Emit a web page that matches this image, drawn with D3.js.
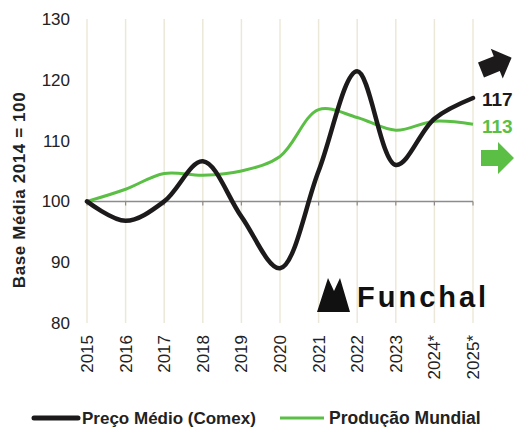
<!DOCTYPE html>
<html>
<head>
<meta charset="utf-8">
<script src="https://cdn.jsdelivr.net/npm/d3@7"></script>
<style>
  body { margin: 0; background: #fff; }
  text { font-family: "Liberation Sans", Arial, Helvetica, sans-serif; }
</style>
</head>
<body>
<svg id="chart" width="516" height="427"></svg>
<script>
// data
const years = ["2015", "2016", "2017", "2018", "2019", "2020", "2021", "2022", "2023", "2024*", "2025*"];
const preco = [100, 96.8, 100, 106.6, 97.5, 89, 105, 121.4, 106, 113.6, 117];
const producao = [100, 102, 104.6, 104.3, 105, 107.4, 115.1, 113.8, 111.7, 113.2, 112.7];
const yTicks = [80, 90, 100, 110, 120, 130];

const svg = d3.select("#chart");
const plotLeft = 87, plotRight = 473, plotTop = 19, plotBottom = 323;

const x = d3.scalePoint().domain(years).range([plotLeft, plotRight]);
const y = d3.scaleLinear().domain([80, 130]).range([plotBottom, plotTop]);

// vertical grid
svg.append("g").selectAll("line")
  .data(years)
  .enter().append("line")
    .attr("x1", d => x(d)).attr("x2", d => x(d))
    .attr("y1", y(130)).attr("y2", y(80))
    .attr("stroke", "#ece8d9")
    .attr("stroke-width", 1.5);

// base line at 100 with small ticks
svg.append("line")
  .attr("x1", plotLeft).attr("x2", plotRight)
  .attr("y1", y(100)).attr("y2", y(100))
  .attr("stroke", "#8c8c8c").attr("stroke-width", 1.5);
svg.append("g").selectAll("line")
  .data(years)
  .enter().append("line")
    .attr("x1", d => x(d)).attr("x2", d => x(d))
    .attr("y1", y(100)).attr("y2", y(100) + 4)
    .attr("stroke", "#8c8c8c").attr("stroke-width", 1.2);

// y tick labels
svg.append("g").selectAll("text")
  .data(yTicks)
  .enter().append("text")
    .attr("x", 70)
    .attr("y", d => y(d))
    .attr("dy", "0.35em")
    .attr("text-anchor", "end")
    .attr("font-size", 17)
    .attr("fill", "#222")
    .text(d => d);

// x tick labels
svg.append("g").selectAll("text")
  .data(years)
  .enter().append("text")
    .attr("transform", d => "translate(" + (x(d) + 6) + ",335) rotate(-90)")
    .attr("text-anchor", "end")
    .attr("font-size", 17)
    .attr("fill", "#222")
    .text(d => d);

// y axis title
svg.append("text")
  .attr("transform", "translate(25,190) rotate(-90)")
  .attr("text-anchor", "middle")
  .attr("font-size", 17)
  .attr("font-weight", "bold")
  .attr("letter-spacing", 0.6)
  .attr("fill", "#222")
  .text("Base Média 2014 = 100");

// logo
const logo = svg.append("g");
logo.append("path")
  .attr("d", "M317,312 L328,278 L334,291 L340,278 L350,312 Z")
  .attr("fill", "#111");
logo.append("text")
  .attr("x", 357).attr("y", 307)
  .attr("font-family", "Lato, 'Noto Sans', sans-serif")
  .attr("font-size", 29)
  .attr("font-weight", "bold")
  .attr("letter-spacing", 3)
  .attr("fill", "#111")
  .text("Funchal");

const line = d3.line()
  .x((d, i) => x(years[i]))
  .y(d => y(d))
  .curve(d3.curveCatmullRom.alpha(0.5));

svg.append("path")
  .datum(producao)
  .attr("d", line)
  .attr("fill", "none")
  .attr("stroke", "#5bbf45")
  .attr("stroke-width", 3);

svg.append("path")
  .datum(preco)
  .attr("d", line)
  .attr("fill", "none")
  .attr("stroke", "#1c1a1a")
  .attr("stroke-width", 4.5)
  .attr("stroke-linecap", "round");

// end labels
svg.append("text")
  .attr("x", 482).attr("y", y(preco[preco.length - 1]) + 8)
  .attr("font-size", 19).attr("font-weight", "bold")
  .attr("fill", "#1c1a1a")
  .text(Math.round(preco[preco.length - 1]));
svg.append("text")
  .attr("x", 482).attr("y", y(producao[producao.length - 1]) + 9)
  .attr("font-size", 19).attr("font-weight", "bold")
  .attr("fill", "#5bbf45")
  .text(Math.round(producao[producao.length - 1]));

// arrows
const arrowShape = "M0,-8 L17,-8 L17,-16 L33,0 L17,16 L17,8 L0,8 Z";
svg.append("path")
  .attr("d", arrowShape)
  .attr("transform", "translate(481,70) rotate(-22)")
  .attr("fill", "#1c1a1a");
svg.append("path")
  .attr("d", arrowShape)
  .attr("transform", "translate(481,158)")
  .attr("fill", "#5bbf45");

// legend
const legend = svg.append("g");
legend.append("line")
  .attr("x1", 34).attr("x2", 78).attr("y1", 418).attr("y2", 418)
  .attr("stroke", "#1c1a1a").attr("stroke-width", 5).attr("stroke-linecap", "round");
legend.append("text")
  .attr("x", 82).attr("y", 424)
  .attr("font-size", 17).attr("font-weight", "bold").attr("fill", "#222")
  .text("Preço Médio (Comex)");
legend.append("line")
  .attr("x1", 280).attr("x2", 324).attr("y1", 418).attr("y2", 418)
  .attr("stroke", "#5bbf45").attr("stroke-width", 3);
legend.append("text")
  .attr("x", 329).attr("y", 424)
  .attr("font-size", 17.5).attr("font-weight", "bold").attr("fill", "#222")
  .text("Produção Mundial");
</script>
</body>
</html>
